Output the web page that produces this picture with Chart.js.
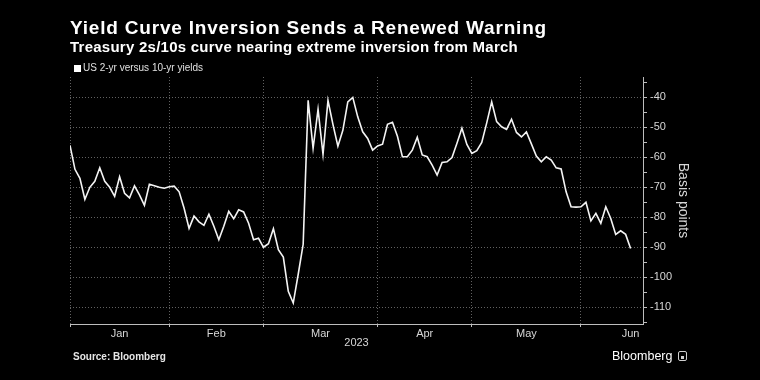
<!DOCTYPE html>
<html><head><meta charset="utf-8">
<script src="https://cdn.jsdelivr.net/npm/chart.js@4.4.1/dist/chart.umd.min.js"></script>
<style>
html,body{margin:0;padding:0;background:#000;width:760px;height:380px;overflow:hidden;}
#wrap{position:relative;width:760px;height:380px;background:#000;}
canvas{position:absolute;left:0;top:0;}
.t{position:absolute;white-space:nowrap;line-height:1;color:#fff;font-family:'Liberation Sans',Arial,sans-serif;}
#title{left:70px;top:18px;font-size:19px;font-weight:bold;letter-spacing:0.8px;}
#subtitle{left:70px;top:39px;font-size:15px;font-weight:bold;letter-spacing:0.25px;}
#legend{left:74px;top:63px;font-size:10px;color:#e0e0e0;}
#legend span.sw{display:inline-block;width:7px;height:7px;background:#fff;margin-right:2px;vertical-align:-1px;}
#source{left:73px;top:352px;font-size:10px;font-weight:bold;color:#e6e6e6;}
#logo{left:612px;top:350px;font-size:12.5px;color:#fff;}
#logoicon{position:absolute;left:678px;top:351px;width:9px;height:10px;border:1px solid #cfcfcf;border-radius:2px;box-sizing:border-box;}
#logoicon:after{content:'';position:absolute;left:2px;top:4px;width:3px;height:3px;background:#cfcfcf;}
</style></head><body>
<div id="wrap">
<canvas id="c" width="760" height="380"></canvas>
<div class="t" id="title">Yield Curve Inversion Sends a Renewed Warning</div>
<div class="t" id="subtitle">Treasury 2s/10s curve nearing extreme inversion from March</div>
<div class="t" id="legend"><span class="sw"></span>US 2-yr versus 10-yr yields</div>
<div class="t" id="source">Source: Bloomberg</div>
<div class="t" id="logo">Bloomberg</div>
<div id="logoicon"></div>
</div>
<script>
// ---- data ----
const dates = [
 '2023-01-03','2023-01-04','2023-01-05','2023-01-06','2023-01-09','2023-01-10','2023-01-11','2023-01-12','2023-01-13','2023-01-17',
 '2023-01-18','2023-01-19','2023-01-20','2023-01-23','2023-01-24','2023-01-25','2023-01-26','2023-01-27','2023-01-30','2023-01-31',
 '2023-02-01','2023-02-02','2023-02-03','2023-02-06','2023-02-07','2023-02-08','2023-02-09','2023-02-10','2023-02-13','2023-02-14',
 '2023-02-15','2023-02-16','2023-02-17','2023-02-21','2023-02-22','2023-02-23','2023-02-24','2023-02-27','2023-02-28',
 '2023-03-01','2023-03-02','2023-03-03','2023-03-06','2023-03-07','2023-03-08','2023-03-09','2023-03-10','2023-03-13','2023-03-14',
 '2023-03-15','2023-03-16','2023-03-17','2023-03-20','2023-03-21','2023-03-22','2023-03-23','2023-03-24','2023-03-27','2023-03-28',
 '2023-03-29','2023-03-30','2023-03-31',
 '2023-04-03','2023-04-04','2023-04-05','2023-04-06','2023-04-10','2023-04-11','2023-04-12','2023-04-13','2023-04-14','2023-04-17',
 '2023-04-18','2023-04-19','2023-04-20','2023-04-21','2023-04-24','2023-04-25','2023-04-26','2023-04-27','2023-04-28',
 '2023-05-01','2023-05-02','2023-05-03','2023-05-04','2023-05-05','2023-05-08','2023-05-09','2023-05-10','2023-05-11','2023-05-12',
 '2023-05-15','2023-05-16','2023-05-17','2023-05-18','2023-05-19','2023-05-22','2023-05-23','2023-05-24','2023-05-25','2023-05-26',
 '2023-05-30','2023-05-31',
 '2023-06-01','2023-06-02','2023-06-05','2023-06-06','2023-06-07','2023-06-08','2023-06-09','2023-06-12','2023-06-13','2023-06-14','2023-06-15'
];
const spread = [
 -56, -64, -67, -74, -70, -68, -63.5, -68, -70, -73,
 -66.5, -72, -73.5, -69.5, -72.5, -76, -69, -69.5, -70, -70.3,
 -69.8, -69.6, -71.5, -77, -83.7, -79.6, -81.5, -82.7, -79, -83,
 -87.5, -83, -78, -80.5, -77.5, -78.2, -82, -87.5, -87,
 -90, -88.8, -83.8, -90.8, -93.3, -104.7, -108.6, -99, -89, -41,
 -57, -44, -59, -41, -49, -56.3, -51, -41.5, -40, -46.5,
 -51.5, -53.7, -57.6,
 -56.2, -55.6, -49, -48.3, -53, -59.8, -59.8, -57.6, -53.3, -59.2,
 -59.8, -62.6, -65.9, -61.7, -61.5, -60.1, -55.3, -50.3, -55.7,
 -58.7, -57.8, -55, -48.5, -41.5, -48.1, -49.8, -50.7, -47.3, -51.7,
 -53.2, -51.5, -55.5, -59.6, -61.5, -59.8, -60.9, -63.5, -63.9, -71.5,
 -76.5, -76.6,
 -76.5, -75, -81.2, -78.7, -82, -76.5, -80.4, -85.7, -84.5, -85.7, -90.4
];
const monthLabels = ['Jan','Feb','Mar','Apr','May','Jun'];
const yearLabel = '2023';
const yMajorTicks = [-110,-100,-90,-80,-70,-60,-50,-40];
const yMinorTicks = [-115,-105,-95,-85,-75,-65,-55,-45,-35];
const seriesName = 'US 2-yr versus 10-yr yields';
const yAxisTitle = 'Basis points';

// ---- derived ----
const points = spread.map((v,i)=>({x:i,y:v}));
const monthStarts = [];
dates.forEach((d,i)=>{ if(i===0 || d.slice(5,7)!==dates[i-1].slice(5,7)) monthStarts.push(i); });
const monthMids = monthStarts.map((s,k)=> k<monthStarts.length-1 ? (s+monthStarts[k+1])/2 : s+10);
const xLabelMap = new Map(monthMids.map((m,k)=>[m, monthLabels[k]]));
const startSet = new Set(monthStarts);
const majorSet = new Set(yMajorTicks);

const GRID = 'rgba(255,255,255,0.38)';
const LABEL = '#d6d6d6';
const AXIS = '#bdbdbd';

Chart.defaults.font.family = "'Liberation Sans', Arial, sans-serif";
Chart.defaults.color = LABEL;

new Chart(document.getElementById('c'), {
  type: 'line',
  data: { datasets: [{
    label: seriesName,
    data: points,
    borderColor: '#f4f4f4',
    borderWidth: 1.6,
    pointRadius: 0,
    tension: 0,
    fill: false
  }]},
  options: {
    responsive: false,
    animation: false,
    devicePixelRatio: 1,
    layout: { padding: { left: 70, top: 77, right: 68.5, bottom: 30.4 } },
    plugins: { legend: { display: false }, tooltip: { enabled: false }, title: { display: false } },
    scales: {
      x: {
        type: 'linear', position: 'bottom', min: 0, max: 115.5,
        afterBuildTicks: s => { s.ticks = [...monthStarts, ...monthMids].sort((a,b)=>a-b).map(v=>({value:v})); },
        afterFit: s => { s.height = 25.6; },
        ticks: { autoSkip: false, maxRotation: 0, padding: 0, color: LABEL, font: { size: 11 },
                 callback: v => xLabelMap.has(v) ? xLabelMap.get(v) : '' },
        grid: { color: c => startSet.has(c.tick && c.tick.value) ? GRID : 'rgba(0,0,0,0)',
                tickColor: c => startSet.has(c.tick && c.tick.value) ? AXIS : 'rgba(0,0,0,0)',
                tickLength: 3, lineWidth: 1 },
        border: { display: true, color: AXIS, width: 1, dash: [1,2] },
        title: { display: true, text: yearLabel, color: LABEL, font: { size: 11 }, padding: 0 }
      },
      y: {
        type: 'linear', position: 'right', min: -115.6, max: -33.2,
        afterBuildTicks: s => { s.ticks = [...yMinorTicks, ...yMajorTicks].sort((a,b)=>a-b).map(v=>({value:v})); },
        afterFit: s => { s.width = 48.5; },
        ticks: { autoSkip: false, padding: 3, color: LABEL, font: { size: 11 },
                 callback: v => majorSet.has(v) ? String(v) : '' },
        grid: { color: c => majorSet.has(c.tick && c.tick.value) ? GRID : 'rgba(0,0,0,0)',
                tickColor: AXIS, tickLength: 4, lineWidth: 1 },
        border: { display: true, color: AXIS, width: 1, dash: [1,2] },
        title: { display: true, text: yAxisTitle, color: LABEL, font: { size: 14 }, padding: 0 }
      }
    }
  }
});
</script>
</body></html>
